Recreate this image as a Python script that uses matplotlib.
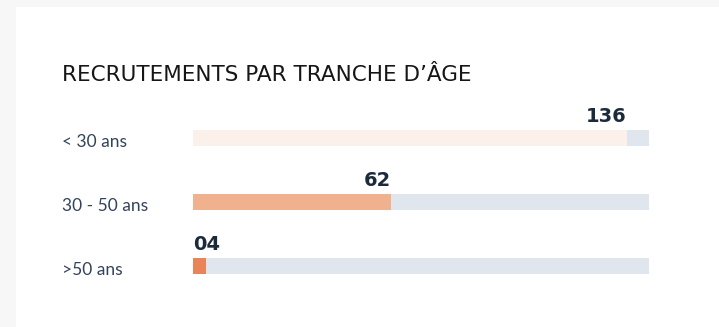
import matplotlib.pyplot as plt
from matplotlib.patches import Rectangle

# Recrutements par tranche d'age
categories = ['< 30 ans', '30 - 50 ans', '>50 ans']
values = [136, 62, 4]
scale_max = 143

fill_colors = ['#fcf0ea', '#f0b18f', '#e8835a']
track_color = '#dfe6ed'
label_color = '#1c2b3c'

W, H = 719, 327
fig = plt.figure(figsize=(W / 100, H / 100), dpi=100)
fig.patch.set_facecolor('#f7f7f7')

# white card
fig.patches.append(Rectangle((16 / W, 0), 1, 1 - 7 / H, transform=fig.transFigure,
                             facecolor='white', edgecolor='none', zorder=-1))

# axes holding the bars: three 64px slots starting at y=106px
top, bottom = 106, 298
ax = fig.add_axes([193 / W, 1 - bottom / H, (649 - 193) / W, (bottom - top) / H])
ax.set_zorder(2)
ax.set_facecolor('none')
ax.set_xlim(0, scale_max)
ax.set_ylim(len(categories) - 0.5, -0.5)
ax.axis('off')

bar_h = 16 / 64
pos = list(range(len(categories)))
ax.barh(pos, [scale_max] * len(pos), height=bar_h, color=track_color, left=0)
ax.barh(pos, values, height=bar_h, color=fill_colors)

for i, v in enumerate(values):
    # right-align on the bar end, unless it would spill past the start
    if v < 12:
        x, ha = 0, 'left'
    else:
        x, ha = v, 'right'
    ax.annotate(f'{v:02d}', (x, i - bar_h / 2), xytext=(0, 6),
                textcoords='offset points', ha=ha, va='baseline',
                fontsize=14, fontweight='bold', color=label_color,
                family='DejaVu Sans', annotation_clip=False)
    ax.annotate(categories[i], (62 / W, i + bar_h / 2 + 0.01), xycoords=('figure fraction', 'data'),
                ha='left', va='baseline', fontsize=12.5, color='#33435a',
                family='Lato', annotation_clip=False)

fig.text(62 / W, 1 - 81 / H, 'RECRUTEMENTS PAR TRANCHE D’ÂGE', ha='left', va='baseline',
         fontsize=15.5, color='#161616', family='DejaVu Sans')

fig.savefig('out.png', dpi=100, facecolor=fig.get_facecolor())
